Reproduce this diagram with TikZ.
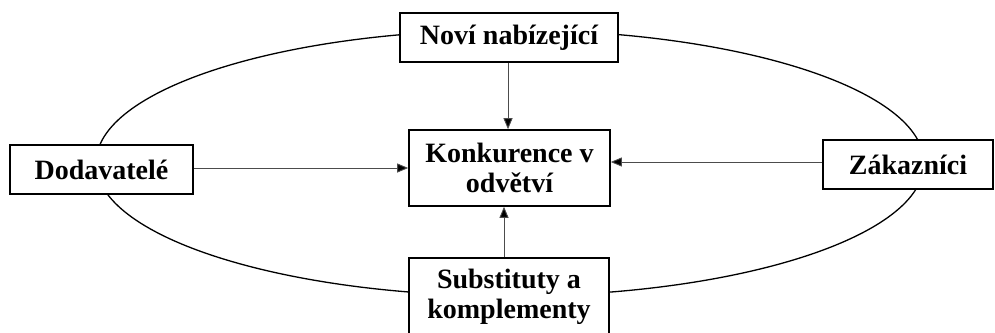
\documentclass[tikz,border=0pt]{standalone}
\usepackage{fontspec}
\setmainfont{Liberation Serif}
\usetikzlibrary{arrows.meta}
\begin{document}
\begin{tikzpicture}[x=1pt,y=-1pt,
  box/.style={draw=black,line width=1.6pt,fill=white,inner sep=0pt,align=center,
    font=\fontsize{28}{30}\selectfont\bfseries},
  arr/.style={draw=black!70,line width=0.9pt,-{Triangle[length=11pt,width=9pt,fill=black]}}]
\useasboundingbox (0,0) rectangle (995,332);
\draw[line width=1.3pt] (510,163) ellipse [x radius=414, y radius=133];
\node[box,minimum width=218pt,minimum height=49pt] (novi) at (509,37.5) {Noví nabízející};
\node[box,minimum width=201pt,minimum height=76pt] (konk) at (509.5,168) {Konkurence v\\odvětví};
\node[box,minimum width=183pt,minimum height=49pt] (dod) at (101.5,169.5) {Dodavatelé};
\node[box,minimum width=170pt,minimum height=49pt] (zak) at (908,164.5) {Zákazníci};
\node[box,minimum width=200pt,minimum height=78pt] (sub) at (509,297) {Substituty a\\komplementy};
\draw[arr] (novi.south -| 508,0) -- (konk.north -| 508,0);
\draw[arr] (dod.east |- 0,168) -- (konk.west |- 0,168);
\draw[arr] (zak.west |- 0,162) -- (konk.east |- 0,162);
\draw[arr] (sub.north -| 504,0) -- (konk.south -| 504,0);
\end{tikzpicture}
\end{document}
